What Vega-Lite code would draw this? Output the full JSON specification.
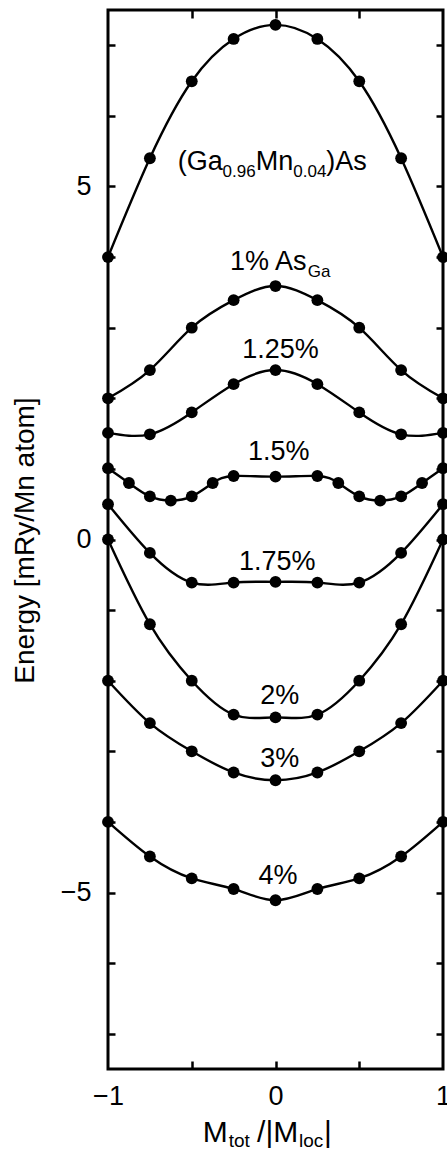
{
  "$schema": "https://vega.github.io/schema/vega-lite/v6.json",
  "width": 335,
  "height": 1059,
  "autosize": "none",
  "padding": {"left": 108, "top": 10, "right": 4, "bottom": 81},
  "config": {
    "view": {"stroke": "black", "strokeWidth": 3},
    "font": "Liberation Sans",
    "axis": {"domain": false, "grid": false, "tickColor": "black", "tickWidth": 2.5, "labelColor": "black", "titleColor": "black", "labelFont": "Liberation Sans", "titleFont": "Liberation Sans", "labelFontSize": 27, "titleFontSize": 28, "titleFontWeight": "normal"}
  },
  "datasets": {
    "curves": [
      {"series": "GaMnAs", "m": -1, "e": 4.0}, {"series": "GaMnAs", "m": -0.75, "e": 5.4}, {"series": "GaMnAs", "m": -0.5, "e": 6.49}, {"series": "GaMnAs", "m": -0.25, "e": 7.09}, {"series": "GaMnAs", "m": 0, "e": 7.29}, {"series": "GaMnAs", "m": 0.25, "e": 7.09}, {"series": "GaMnAs", "m": 0.5, "e": 6.49}, {"series": "GaMnAs", "m": 0.75, "e": 5.4}, {"series": "GaMnAs", "m": 1, "e": 4.0},
      {"series": "1%", "m": -1, "e": 2.0}, {"series": "1%", "m": -0.75, "e": 2.4}, {"series": "1%", "m": -0.5, "e": 3.0}, {"series": "1%", "m": -0.25, "e": 3.39}, {"series": "1%", "m": 0, "e": 3.59}, {"series": "1%", "m": 0.25, "e": 3.39}, {"series": "1%", "m": 0.5, "e": 3.0}, {"series": "1%", "m": 0.75, "e": 2.4}, {"series": "1%", "m": 1, "e": 2.0},
      {"series": "1.25%", "m": -1, "e": 1.51}, {"series": "1.25%", "m": -0.75, "e": 1.49}, {"series": "1.25%", "m": -0.5, "e": 1.8}, {"series": "1.25%", "m": -0.25, "e": 2.2}, {"series": "1.25%", "m": 0, "e": 2.4}, {"series": "1.25%", "m": 0.25, "e": 2.2}, {"series": "1.25%", "m": 0.5, "e": 1.8}, {"series": "1.25%", "m": 0.75, "e": 1.49}, {"series": "1.25%", "m": 1, "e": 1.51},
      {"series": "1.5%", "m": -1, "e": 1.01}, {"series": "1.5%", "m": -0.875, "e": 0.8}, {"series": "1.5%", "m": -0.75, "e": 0.61}, {"series": "1.5%", "m": -0.625, "e": 0.55}, {"series": "1.5%", "m": -0.5, "e": 0.61}, {"series": "1.5%", "m": -0.375, "e": 0.8}, {"series": "1.5%", "m": -0.25, "e": 0.9}, {"series": "1.5%", "m": 0, "e": 0.89}, {"series": "1.5%", "m": 0.25, "e": 0.9}, {"series": "1.5%", "m": 0.375, "e": 0.8}, {"series": "1.5%", "m": 0.5, "e": 0.61}, {"series": "1.5%", "m": 0.625, "e": 0.55}, {"series": "1.5%", "m": 0.75, "e": 0.61}, {"series": "1.5%", "m": 0.875, "e": 0.8}, {"series": "1.5%", "m": 1, "e": 1.01},
      {"series": "1.75%", "m": -1, "e": 0.5}, {"series": "1.75%", "m": -0.75, "e": -0.19}, {"series": "1.75%", "m": -0.5, "e": -0.61}, {"series": "1.75%", "m": -0.25, "e": -0.61}, {"series": "1.75%", "m": 0, "e": -0.6}, {"series": "1.75%", "m": 0.25, "e": -0.61}, {"series": "1.75%", "m": 0.5, "e": -0.61}, {"series": "1.75%", "m": 0.75, "e": -0.19}, {"series": "1.75%", "m": 1, "e": 0.5},
      {"series": "2%", "m": -1, "e": 0.0}, {"series": "2%", "m": -0.75, "e": -1.2}, {"series": "2%", "m": -0.5, "e": -2.0}, {"series": "2%", "m": -0.25, "e": -2.48}, {"series": "2%", "m": 0, "e": -2.52}, {"series": "2%", "m": 0.25, "e": -2.48}, {"series": "2%", "m": 0.5, "e": -2.0}, {"series": "2%", "m": 0.75, "e": -1.2}, {"series": "2%", "m": 1, "e": 0.0},
      {"series": "3%", "m": -1, "e": -2.0}, {"series": "3%", "m": -0.75, "e": -2.6}, {"series": "3%", "m": -0.5, "e": -3.0}, {"series": "3%", "m": -0.25, "e": -3.3}, {"series": "3%", "m": 0, "e": -3.41}, {"series": "3%", "m": 0.25, "e": -3.3}, {"series": "3%", "m": 0.5, "e": -3.0}, {"series": "3%", "m": 0.75, "e": -2.6}, {"series": "3%", "m": 1, "e": -2.0},
      {"series": "4%", "m": -1, "e": -4.0}, {"series": "4%", "m": -0.75, "e": -4.49}, {"series": "4%", "m": -0.5, "e": -4.8}, {"series": "4%", "m": -0.25, "e": -4.95}, {"series": "4%", "m": 0, "e": -5.11}, {"series": "4%", "m": 0.25, "e": -4.95}, {"series": "4%", "m": 0.5, "e": -4.8}, {"series": "4%", "m": 0.75, "e": -4.49}, {"series": "4%", "m": 1, "e": -4.0}
    ],
    "centerLabels": [
      {"text": "1.25%", "m": 0.03, "e": 2.57},
      {"text": "1.5%", "m": 0.02, "e": 1.12},
      {"text": "1.75%", "m": 0.01, "e": -0.43},
      {"text": "2%", "m": 0.025, "e": -2.33},
      {"text": "3%", "m": 0.025, "e": -3.22},
      {"text": "4%", "m": 0.015, "e": -4.88}
    ],
    "annotFragments": [
      {"text": "(Ga", "m": -0.584, "e": 5.23},
      {"text": "Mn", "m": -0.118, "e": 5.23},
      {"text": ")As", "m": 0.303, "e": 5.23},
      {"text": "1% As", "m": -0.272, "e": 3.82}
    ],
    "annotSubs": [
      {"text": "0.96", "m": -0.316, "e": 5.23},
      {"text": "0.04", "m": 0.106, "e": 5.23},
      {"text": "Ga", "m": 0.193, "e": 3.82}
    ],
    "titleFragments": [
      {"text": "M", "m": -0.434, "e": -8.53},
      {"text": "/|M", "m": -0.11, "e": -8.53},
      {"text": "|", "m": 0.29, "e": -8.53}
    ],
    "titleSubs": [
      {"text": "tot", "m": -0.279, "e": -8.53},
      {"text": "loc", "m": 0.14, "e": -8.53}
    ]
  },
  "layer": [
    {
      "data": {"name": "curves"},
      "mark": {"type": "line", "interpolate": "natural", "color": "black", "strokeWidth": 2.4},
      "encoding": {
        "x": {"field": "m", "type": "quantitative", "scale": {"domain": [-1, 1], "nice": false, "zero": false},
              "axis": {"orient": "bottom", "values": [-1, 0, 1], "labelExpr": "datum.value < 0 ? '\u2212' + (-datum.value) : '' + datum.value", "ticks": false, "labelPadding": 14, "labelFlush": false, "title": null}},
        "y": {"field": "e", "type": "quantitative", "scale": {"domain": [-7.5, 7.5], "nice": false, "zero": false},
              "axis": {"orient": "left", "values": [-5, 0, 5], "labelExpr": "datum.value < 0 ? '\u2212' + (-datum.value) : '' + datum.value", "ticks": false, "labelPadding": 17, "title": "Energy [mRy/Mn atom]", "titleX": -75, "titleY": 530, "titleBaseline": "alphabetic", "titleAngle": -90}},
        "detail": {"field": "series", "type": "nominal"}
      }
    },
    {
      "data": {"name": "curves"},
      "mark": {"type": "circle", "color": "black", "opacity": 1, "size": 140},
      "encoding": {
        "x": {"field": "m", "type": "quantitative", "scale": {"domain": [-1, 1], "nice": false, "zero": false},
              "axis": {"orient": "bottom", "values": [-0.5, 0, 0.5], "tickSize": -8, "labels": false, "title": null}},
        "y": {"field": "e", "type": "quantitative", "scale": {"domain": [-7.5, 7.5], "nice": false, "zero": false},
              "axis": {"orient": "left", "values": [-7, -6, -5, -4, -3, -2, -1, 0, 1, 2, 3, 4, 5, 6, 7], "tickSize": -7, "labels": false, "title": null}}
      }
    },
    {
      "data": {"name": "centerLabels"},
      "mark": {"type": "text", "align": "center", "baseline": "alphabetic", "fontSize": 27, "font": "Liberation Sans", "color": "black"},
      "encoding": {
        "x": {"field": "m", "type": "quantitative", "scale": {"domain": [-1, 1], "nice": false, "zero": false},
              "axis": {"orient": "top", "values": [-0.5, 0, 0.5], "tickSize": -8, "labels": false, "title": null}},
        "y": {"field": "e", "type": "quantitative", "scale": {"domain": [-7.5, 7.5], "nice": false, "zero": false},
              "axis": {"orient": "right", "values": [-7, -6, -5, -4, -3, -2, -1, 0, 1, 2, 3, 4, 5, 6, 7], "tickSize": -7, "labels": false, "title": null}},
        "text": {"field": "text", "type": "nominal"}
      }
    },
    {
      "data": {"name": "annotFragments"},
      "mark": {"type": "text", "align": "left", "baseline": "alphabetic", "fontSize": 27, "font": "Liberation Sans", "color": "black", "clip": false},
      "encoding": {
        "x": {"field": "m", "type": "quantitative", "scale": {"domain": [-1, 1], "nice": false, "zero": false}, "axis": null},
        "y": {"field": "e", "type": "quantitative", "scale": {"domain": [-7.5, 7.5], "nice": false, "zero": false}, "axis": null},
        "text": {"field": "text", "type": "nominal"}
      }
    },
    {
      "data": {"name": "annotSubs"},
      "mark": {"type": "text", "align": "left", "baseline": "alphabetic", "fontSize": 17, "dy": 7, "font": "Liberation Sans", "color": "black", "clip": false},
      "encoding": {
        "x": {"field": "m", "type": "quantitative", "scale": {"domain": [-1, 1], "nice": false, "zero": false}, "axis": null},
        "y": {"field": "e", "type": "quantitative", "scale": {"domain": [-7.5, 7.5], "nice": false, "zero": false}, "axis": null},
        "text": {"field": "text", "type": "nominal"}
      }
    },
    {
      "data": {"name": "titleFragments"},
      "mark": {"type": "text", "align": "left", "baseline": "alphabetic", "fontSize": 30, "font": "Liberation Sans", "color": "black", "clip": false},
      "encoding": {
        "x": {"field": "m", "type": "quantitative", "scale": {"domain": [-1, 1], "nice": false, "zero": false}, "axis": null},
        "y": {"field": "e", "type": "quantitative", "scale": {"domain": [-7.5, 7.5], "nice": false, "zero": false}, "axis": null},
        "text": {"field": "text", "type": "nominal"}
      }
    },
    {
      "data": {"name": "titleSubs"},
      "mark": {"type": "text", "align": "left", "baseline": "alphabetic", "fontSize": 19, "dy": 5, "font": "Liberation Sans", "color": "black", "clip": false},
      "encoding": {
        "x": {"field": "m", "type": "quantitative", "scale": {"domain": [-1, 1], "nice": false, "zero": false}, "axis": null},
        "y": {"field": "e", "type": "quantitative", "scale": {"domain": [-7.5, 7.5], "nice": false, "zero": false}, "axis": null},
        "text": {"field": "text", "type": "nominal"}
      }
    }
  ],
  "resolve": {"axis": {"x": "independent", "y": "independent"}}
}
